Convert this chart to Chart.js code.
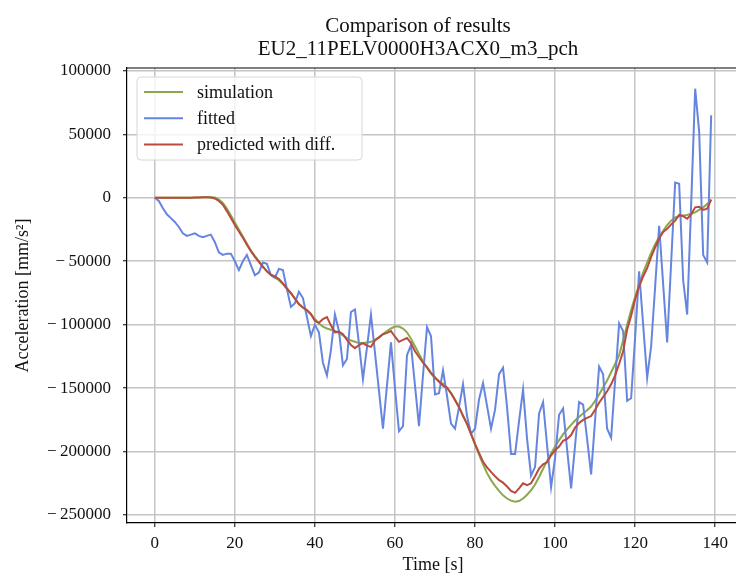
<!DOCTYPE html>
<html>
<head>
<meta charset="utf-8">
<script src="https://cdn.jsdelivr.net/npm/chart.js@4.4.1/dist/chart.umd.min.js"></script>
<style>
  html, body { margin: 0; padding: 0; background: #fff; overflow: hidden; }
  #wrap { width: 745px; height: 576px; }
</style>
</head>
<body>
<div id="wrap"><canvas id="chart" width="745" height="576"></canvas></div>
<script>
// time axis [s]
const time = [
  0, 1, 2, 3, 4, 5, 6, 7, 8, 9, 10, 11, 12, 13, 14, 15, 16, 17, 18, 19,
  20, 21, 22, 23, 24, 25, 26, 27, 28, 29, 30, 31, 32, 33, 34, 35, 36, 37, 38, 39,
  40, 41, 42, 43, 44, 45, 46, 47, 48, 49, 50, 51, 52, 53, 54, 55, 56, 57, 58, 59,
  60, 61, 62, 63, 64, 65, 66, 67, 68, 69, 70, 71, 72, 73, 74, 75, 76, 77, 78, 79,
  80, 81, 82, 83, 84, 85, 86, 87, 88, 89, 90, 91, 92, 93, 94, 95, 96, 97, 98, 99,
  100, 101, 102, 103, 104, 105, 106, 107, 108, 109, 110, 111, 112, 113, 114, 115, 116, 117, 118, 119,
  120, 121, 122, 123, 124, 125, 126, 127, 128, 129, 130, 131, 132, 133, 134, 135, 136, 137, 138, 139
];

// acceleration [mm/s^2]
const simulation = [
  0, 0, 0, 0, 0, 0, 0, 0, 0, 0, 200, 300, 400, 500, 500, 200, -1500, -4000, -8500, -14000,
  -19500, -25000, -30500, -36000, -41500, -46000, -50000, -54000, -58000, -61000,
  -63000, -65000, -68000, -71500, -75500, -79500, -83500, -86500, -89000, -92000,
  -95500, -99000, -101500, -103000, -104000, -105000, -106500, -108500, -110500, -112500,
  -113500, -114500, -114500, -114000, -113500, -112000, -110000, -107500, -105000, -103000,
  -101500, -101500, -103000, -106000, -111000, -117000, -123000, -129000, -134000, -138500,
  -142000, -144500, -146500, -150000, -154000, -159000, -165000, -171500, -178500, -186000,
  -194500, -202500, -210000, -217000, -222500, -227000, -231000, -234500, -237000, -238700,
  -239500, -239000, -237000, -234000, -230500, -226000, -220000, -213500, -207500, -201500,
  -196000, -191000, -186500, -182500, -179000, -175500, -172500, -170000, -167500, -164500,
  -160000, -155000, -149500, -144000, -137500, -131000, -124000, -112500, -100000, -88500,
  -78000, -68500, -59000, -51000, -43500, -36500, -31000, -26000, -21500, -18000,
  -15500, -14500, -14000, -13500, -12500, -11500, -9500, -7500, -5000, -1500
];

const fitted = [
  0, -2500, -8000, -13000, -16000, -19000, -23000, -28000, -30000, -29000,
  -28000, -30000, -31000, -30000, -29000, -35000, -43000, -45000, -44000, -44000,
  -50000, -57000, -50000, -45000, -53000, -61000, -59000, -51000, -52000, -61000,
  -63000, -56000, -57000, -72000, -86000, -83000, -74000, -79000, -94000, -109000,
  -100000, -106000, -130000, -140000, -120000, -92000, -105000, -132000, -127000, -90000,
  -88000, -115000, -143000, -118000, -92000, -122000, -152000, -182000, -148000, -114000,
  -150000, -184000, -180000, -124000, -116000, -148000, -180000, -140000, -102000, -109000,
  -155000, -154000, -136000, -156000, -178000, -182000, -165000, -147000, -172000, -186000,
  -182000, -159000, -146000, -164000, -182000, -167000, -139000, -134000, -165000, -202000,
  -202000, -176000, -151000, -190000, -219000, -212000, -170000, -161000, -195000, -228000,
  -205000, -171000, -166000, -198000, -229000, -195000, -161000, -163000, -190000, -218000,
  -175000, -133000, -139000, -182000, -189000, -144000, -99000, -105000, -160000, -158000,
  -110000, -58000, -100000, -142000, -117000, -70000, -22000, -68000, -114000, -51000,
  12000, 11000, -65000, -92000, -5000, 86000, 52000, -45000, -51000, 65000
];

const predicted = [
  0, 0, 0, 0, 0, 0, 0, 0, 0, 0, 300, 300, 400, 400, 300, -500, -2500, -5500, -10500, -16000,
  -21500, -26500, -31500, -37000, -42000, -46500, -50500, -54500, -58000, -60500,
  -62000, -64000, -67500, -71500, -75000, -79500, -84000, -86500, -88500, -91500,
  -97000, -98500, -95500, -94000, -100500, -106000, -105500, -107500, -112000, -116000,
  -118500, -116000, -114500, -116500, -117500, -112500, -110000, -107500, -106500, -105000,
  -109500, -113500, -112000, -110500, -114500, -121000, -125500, -130000, -133500, -138000,
  -141500, -145000, -148000, -149500, -154000, -159500, -165000, -172000, -178000, -186000,
  -194000, -201000, -208000, -212500, -216000, -219500, -222500, -224500, -227500, -231000,
  -232500, -229000, -225000, -226500, -225000, -219500, -213500, -210000, -208500, -203000,
  -199000, -196000, -191500, -190000, -187000, -181000, -177500, -175000, -173500, -172000,
  -167000, -161500, -157000, -152500, -147000, -140000, -131000, -121000, -104000, -93000,
  -80000, -70000, -62000, -55500, -46500, -39000, -32000, -27000, -24500, -21000,
  -18000, -13500, -14500, -16500, -13000, -7500, -7000, -9500, -8500, -1500
];

const xTicks = [0, 20, 40, 60, 80, 100, 120, 140];
const yTicks = [-250000, -200000, -150000, -100000, -50000, 0, 50000, 100000];
const seriesNames = ['simulation', 'fitted', 'predicted with diff.'];
const titleLines = ['Comparison of results', 'EU2_11PELV0000H3ACX0_m3_pch'];

const SERIF = '"Liberation Serif", "DejaVu Serif", serif';
const COLORS = { simulation: '#8aa84c', fitted: '#6685de', predicted: '#b84b3d' };
const GRID = '#c4c4c4';

const toPoints = (ys) => ys.map((y, i) => ({ x: time[i], y }));

// top/right spines, title and the legend box
const decorations = {
  id: 'decorations',
  afterDraw(chart) {
    const { ctx, chartArea: a } = chart;
    ctx.save();
    ctx.strokeStyle = '#000';
    ctx.lineWidth = 1.2;
    ctx.beginPath();
    ctx.moveTo(a.left, a.top);
    ctx.lineTo(a.right, a.top);
    ctx.lineTo(a.right, a.bottom);
    ctx.stroke();

    ctx.fillStyle = '#111';
    ctx.font = '21px ' + SERIF;
    ctx.textAlign = 'center';
    ctx.textBaseline = 'middle';
    const cx = 418;
    ctx.fillText(titleLines[0], cx, 26);
    ctx.fillText(titleLines[1], cx, 49);

    // legend
    const bx = 137, by = 77, bw = 225, bh = 83;
    ctx.beginPath();
    ctx.roundRect(bx, by, bw, bh, 4);
    ctx.fillStyle = 'rgba(255,255,255,0.8)';
    ctx.fill();
    ctx.strokeStyle = '#d6d6d6';
    ctx.lineWidth = 1;
    ctx.stroke();

    ctx.font = '18px ' + SERIF;
    ctx.textAlign = 'left';
    chart.data.datasets.forEach((ds, i) => {
      const y = 92 + i * 26.3;
      ctx.strokeStyle = ds.borderColor;
      ctx.lineWidth = 2;
      ctx.beginPath();
      ctx.moveTo(144, y);
      ctx.lineTo(183, y);
      ctx.stroke();
      ctx.fillStyle = '#111';
      ctx.fillText(ds.label, 197, y + 1);
    });
    ctx.restore();
  }
};

new Chart(document.getElementById('chart'), {
  type: 'line',
  data: {
    datasets: [
      { label: seriesNames[0], data: toPoints(simulation), borderColor: COLORS.simulation, order: 2 },
      { label: seriesNames[1], data: toPoints(fitted), borderColor: COLORS.fitted, order: 1 },
      { label: seriesNames[2], data: toPoints(predicted), borderColor: COLORS.predicted, order: 0 }
    ]
  },
  options: {
    responsive: false,
    animation: false,
    layout: { padding: { top: 68, right: 6, bottom: 0, left: 0 } },
    elements: {
      line: { borderWidth: 2, tension: 0, fill: false },
      point: { radius: 0 }
    },
    plugins: {
      legend: { display: false },
      tooltip: { enabled: false },
      title: { display: false }
    },
    scales: {
      x: {
        type: 'linear',
        min: -6.95,
        max: 145.95,
        afterBuildTicks: (axis) => { axis.ticks = xTicks.map((v) => ({ value: v })); },
        afterFit: (axis) => { axis.height = 53; },
        grid: { color: GRID, lineWidth: 1.5, tickColor: '#000', tickLength: 4, tickWidth: 1 },
        border: { display: true, color: '#000', width: 1.2 },
        ticks: { color: '#111', font: { family: SERIF, size: 17 }, padding: 6, maxRotation: 0 },
        title: {
          display: true, text: 'Time [s]', color: '#111',
          font: { family: SERIF, size: 18 }, padding: { top: 0, bottom: 0 }
        }
      },
      y: {
        type: 'linear',
        min: -256300,
        max: 102300,
        afterBuildTicks: (axis) => { axis.ticks = yTicks.map((v) => ({ value: v })); },
        afterFit: (axis) => { axis.width = 127; },
        grid: { color: GRID, lineWidth: 1.5, tickColor: '#000', tickLength: 4, tickWidth: 1 },
        border: { display: true, color: '#000', width: 1.2 },
        ticks: {
          color: '#111', font: { family: SERIF, size: 17 }, padding: 12,
          callback: (v) => String(v).replace('-', '\u2212\u2009')
        },
        title: {
          display: true, text: 'Acceleration [mm/s\u00b2]', color: '#111',
          font: { family: SERIF, size: 18 }, padding: { top: 12, bottom: 0 }
        }
      }
    }
  },
  plugins: [decorations]
});
</script>
</body>
</html>
